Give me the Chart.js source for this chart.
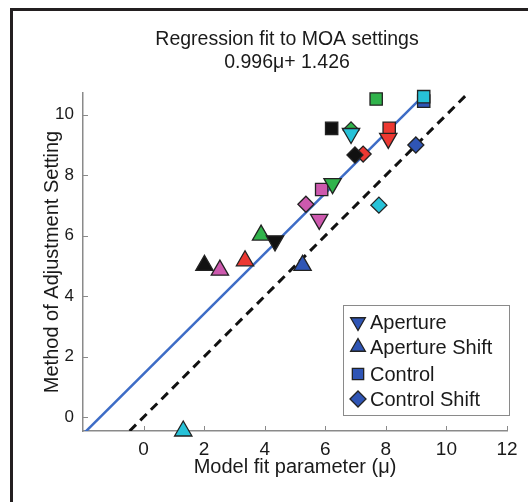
<!DOCTYPE html>
<html>
<head>
<meta charset="utf-8">
<title>MOA regression</title>
<script src="https://cdn.jsdelivr.net/npm/chart.js@4.4.1/dist/chart.umd.min.js"></script>
<style>
  html, body { margin: 0; padding: 0; background: #fff; }
  #wrap { position: relative; width: 528px; height: 502px; overflow: hidden; }
  #frame {
    position: absolute; left: 10px; top: 8px; width: 700px; height: 700px;
    border-left: 3px solid #231f20; border-top: 3px solid #231f20;
    pointer-events: none;
  }
</style>
</head>
<body>
<div id="wrap">
  <canvas id="moa" width="528" height="502"></canvas>
  <div id="frame"></div>
</div>
<script>
// axis ticks
const xTicks = [0, 2, 4, 6, 8, 10, 12];
const yTicks = [0, 2, 4, 6, 8, 10];

// fit coefficients (slope, intercept) and the x span the fit line covers
const fitSlope = 0.996;
const fitIntercept = 1.426;
const fitRange = [-2, 9.25];
// unity line span
const unityRange = [-0.46, 10.65];

// one colour per observer
const observerColors = {
  blue: '#2f55b5', red: '#ec3832', green: '#30b34b',
  cyan: '#27c2d8', black: '#111111', magenta: '#cd59ae'
};

// Aperture (down triangles)
const apertureObs = ['red', 'green', 'cyan', 'black', 'magenta'];
const apertureX = [8.08, 6.24, 6.85, 4.34, 5.80];
const apertureY = [9.22, 7.72, 9.38, 5.83, 6.54];

// Aperture Shift (up triangles)
const apShiftObs = ['blue', 'red', 'green', 'cyan', 'black', 'magenta'];
const apShiftX = [5.25, 3.35, 3.88, 1.31, 2.01, 2.52];
const apShiftY = [5.02, 5.17, 6.02, -0.46, 5.02, 4.86];

// Control (squares)
const controlObs = ['blue', 'red', 'green', 'cyan', 'black', 'magenta'];
const controlX = [9.25, 8.11, 7.68, 9.25, 6.21, 5.88];
const controlY = [10.45, 9.55, 10.52, 10.60, 9.55, 7.53];

// Control Shift (diamonds)
const ctShiftObs = ['blue', 'red', 'green', 'cyan', 'black', 'magenta'];
const ctShiftX = [8.99, 7.25, 6.85, 7.77, 6.98, 5.36];
const ctShiftY = [9.00, 8.70, 9.50, 7.01, 8.67, 7.04];

const legendItems = [
  { label: 'Aperture', style: 'triangle', rotation: 180, radius: 8.5 },
  { label: 'Aperture Shift', style: 'triangle', rotation: 0, radius: 8.5 },
  { label: 'Control', style: 'rect', rotation: 0, radius: 8 },
  { label: 'Control Shift', style: 'rectRot', rotation: 0, radius: 8 }
];

const FONT = "'Liberation Sans', Arial, Helvetica, sans-serif";
const TEXT = '#1a1a1a';
const AXIS = '#8a8a8a';
const LEGEND_BLUE = '#2f55b5';

Chart.defaults.font.family = FONT;
Chart.defaults.color = TEXT;

const pts = (xs, ys) => xs.map((x, i) => ({ x: x, y: ys[i] }));

function markerSet(label, xs, ys, obs, style, rotation, radius, order) {
  return {
    type: 'scatter',
    label: label,
    data: pts(xs, ys),
    pointStyle: style,
    pointRotation: rotation,
    pointRadius: radius,
    pointHoverRadius: radius,
    pointBackgroundColor: obs.map(o => observerColors[o]),
    pointBorderColor: '#222',
    pointBorderWidth: 1.3,
    clip: false,
    order: order
  };
}

// inward tick marks, title lines and the boxed legend
const decorations = {
  id: 'decorations',
  beforeDatasetsDraw(chart) {
    const { ctx, chartArea: a, scales: { x, y } } = chart;
    ctx.save();
    ctx.strokeStyle = AXIS;
    ctx.lineWidth = 1;
    ctx.beginPath();
    xTicks.forEach(v => {
      const px = Math.round(x.getPixelForValue(v)) + 0.5;
      ctx.moveTo(px, a.bottom);
      ctx.lineTo(px, a.bottom - 5);
    });
    yTicks.forEach(v => {
      const py = Math.round(y.getPixelForValue(v)) + 0.5;
      ctx.moveTo(a.left, py);
      ctx.lineTo(a.left + 5, py);
    });
    ctx.stroke();
    ctx.restore();
  },
  afterDraw(chart) {
    const ctx = chart.ctx;
    ctx.save();
    ctx.fillStyle = TEXT;
    ctx.textAlign = 'center';
    ctx.textBaseline = 'middle';
    ctx.font = '19.5px ' + FONT;
    ctx.fillText('Regression fit to MOA settings', 287, 40);
    ctx.fillText('0.996\u03bc+ 1.426', 287, 63);

    // legend box
    const bx = 343, by = 305, bw = 166, bh = 110;
    ctx.fillStyle = '#fff';
    ctx.fillRect(bx, by, bw, bh);
    ctx.strokeStyle = '#8a8a8a';
    ctx.lineWidth = 1;
    ctx.strokeRect(bx + 0.5, by + 0.5, bw, bh);

    const rows = [322, 347, 374, 399];
    ctx.textAlign = 'left';
    ctx.font = '20px ' + FONT;
    legendItems.forEach((item, i) => {
      ctx.fillStyle = LEGEND_BLUE;
      ctx.strokeStyle = '#222';
      ctx.lineWidth = 1.3;
      Chart.helpers.drawPoint(ctx, {
        pointStyle: item.style, rotation: item.rotation,
        radius: item.radius, borderWidth: 1.3
      }, 358, rows[i]);
      ctx.fillStyle = TEXT;
      ctx.fillText(item.label, 370, rows[i] + 1);
    });
    ctx.restore();
  }
};

new Chart(document.getElementById('moa'), {
  data: {
    datasets: [
      markerSet('Aperture', apertureX, apertureY, apertureObs, 'triangle', 180, 10, 0),
      markerSet('Aperture Shift', apShiftX, apShiftY, apShiftObs, 'triangle', 0, 10, 1),
      markerSet('Control', controlX, controlY, controlObs, 'rect', 0, 8.7, 2),
      markerSet('Control Shift', ctShiftX, ctShiftY, ctShiftObs, 'rectRot', 0, 8, 3),
      {
        type: 'line',
        label: 'fit',
        data: fitRange.map(x => ({ x: x, y: fitSlope * x + fitIntercept })),
        borderColor: '#3d6cc6',
        borderWidth: 2.5,
        pointRadius: 0,
        order: 4
      },
      {
        type: 'line',
        label: 'unity',
        data: unityRange.map(v => ({ x: v, y: v })),
        borderColor: '#111',
        borderWidth: 3,
        borderDash: [9, 6],
        pointRadius: 0,
        order: 5
      }
    ]
  },
  options: {
    responsive: false,
    animation: false,
    layout: { padding: { left: 0, right: 21, top: 93, bottom: 0 } },
    plugins: {
      legend: { display: false },
      title: { display: false },
      tooltip: { enabled: false }
    },
    scales: {
      x: {
        type: 'linear',
        position: 'bottom',
        min: -2,
        max: 12,
        afterBuildTicks: s => { s.ticks = xTicks.map(v => ({ value: v })); },
        afterFit: s => { s.height = 71; },
        grid: { drawOnChartArea: false, drawTicks: false },
        border: { color: AXIS, width: 1.5 },
        ticks: { padding: 7, color: TEXT, font: { size: 19 } },
        title: {
          display: true, text: 'Model fit parameter (\u03bc)', color: TEXT,
          font: { size: 20 }, padding: { top: 0, bottom: 23 }
        }
      },
      y: {
        type: 'linear',
        min: -0.46,
        max: 10.72,
        afterBuildTicks: s => { s.ticks = yTicks.map(v => ({ value: v })); },
        afterFit: s => { s.width = 83; },
        grid: { drawOnChartArea: false, drawTicks: false },
        border: { color: AXIS, width: 1.5 },
        ticks: { padding: 9, color: TEXT, font: { size: 17 } },
        title: {
          display: true, text: 'Method of Adjustment Setting', color: TEXT,
          font: { size: 20 }, padding: { top: 40, bottom: 0 }
        }
      }
    }
  },
  plugins: [decorations]
});
</script>
</body>
</html>
